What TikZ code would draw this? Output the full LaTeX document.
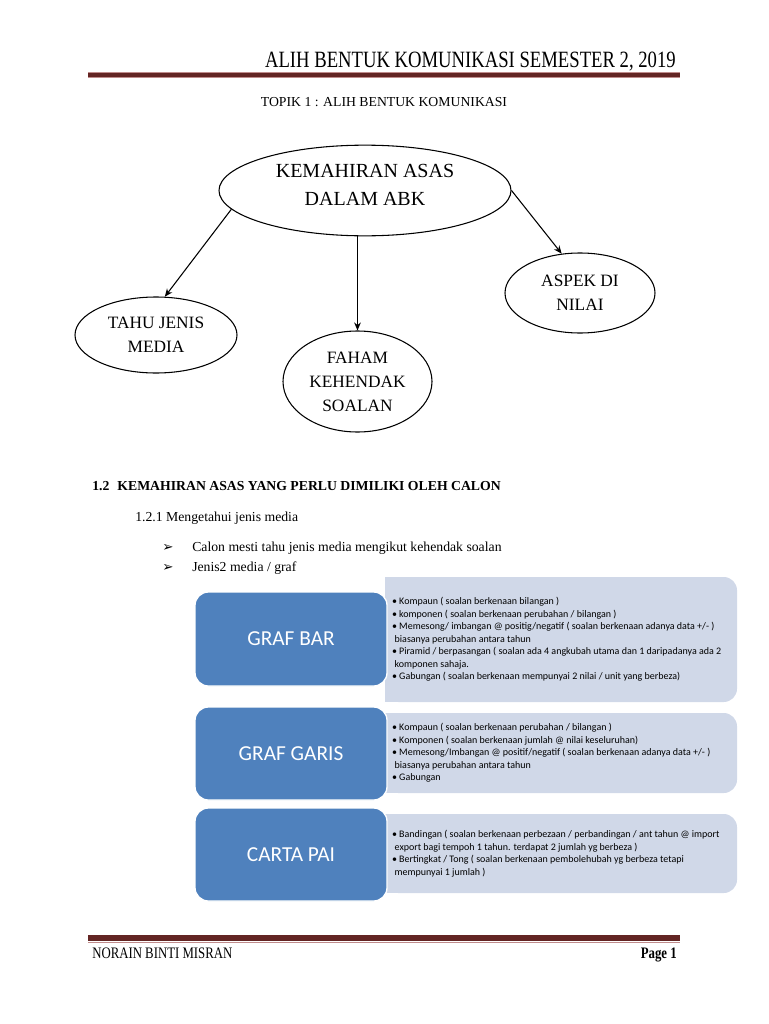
\documentclass[tikz,border=0pt]{standalone}
\usepackage{fontspec}
\setmainfont{Liberation Serif}
\newfontfamily\headfont[FakeStretch=0.8]{Liberation Serif}
\newfontfamily\boxfont{Carlito}
\newfontfamily\symfont{DejaVu Sans}
\usetikzlibrary{shapes, arrows.meta, positioning, calc, fit, backgrounds}
\definecolor{rulered}{RGB}{99, 37, 35}
\definecolor{rulepink}{RGB}{192, 140, 140}
\definecolor{chartblue}{RGB}{79, 129, 189}
\definecolor{infofill}{RGB}{208, 216, 232}

\begin{document}
\begin{tikzpicture}[
  x=0.75pt, y=-0.75pt,
  bubble/.style={ellipse, draw, line width=0.8pt, inner sep=0pt, align=center, font=\fontsize{13}{18}\selectfont},
  link/.style={-{Stealth[length=6pt, width=5pt]}, line width=0.8pt},
  body/.style={anchor=base west, inner sep=0pt, font=\fontsize{10.3}{12}\selectfont},
  chartbox/.style={rectangle, rounded corners=10pt, fill=chartblue, draw=white, line width=1pt, inner sep=0pt, minimum width=144pt, text=white, font={\boxfont\fontsize{16}{19}\selectfont}},
  infobox/.style={rectangle, rounded corners=10pt, fill=infofill, inner sep=0pt, minimum width=264pt},
  infotext/.style={anchor=west, inner sep=0pt, align=left, font={\boxfont\fontsize{7.5}{9.4}\selectfont}},
]
  \fill[white] (0,0) rectangle (768,1024);
  \useasboundingbox (0,0) rectangle (768,1024);

  % page header
  \node[anchor=base east, inner sep=0pt, font={\headfont\fontsize{17.5}{22}\selectfont}] (title) at (676,68) {ALIH BENTUK KOMUNIKASI SEMESTER 2, 2019};
  \draw[rulepink, line width=4.5pt] (88,75) -- (680,75);
  \draw[rulered, line width=3pt] (88,75) -- (680,75);

  \node[anchor=base, inner sep=0pt, font=\fontsize{10.3}{12}\selectfont] (topic) at (384,106.5) {TOPIK 1 : ALIH BENTUK KOMUNIKASI};

  % mind map
  \node[bubble, minimum width=219pt, minimum height=68pt, font=\fontsize{15}{21}\selectfont] (asas) at (365,190.5) {KEMAHIRAN ASAS\\DALAM ABK\\[-13pt]};
  \node[bubble, minimum width=121.5pt, minimum height=57pt] (tahu) at (156,335) {TAHU JENIS\\MEDIA};
  \node[bubble, minimum width=111.75pt, minimum height=75.75pt] (faham) at (357.5,381.5) {FAHAM\\KEHENDAK\\SOALAN};
  \node[bubble, minimum width=112.5pt, minimum height=60pt] (aspek) at (580,293) {ASPEK DI\\NILAI};

  \draw[link] (asas.188) -- (tahu.77);
  \draw[link] (asas.south -| faham.north) -- (faham.north);
  \draw[link] (asas.east) -- (aspek.115);

  % text
  \node[body, font=\bfseries\fontsize{10.3}{12}\selectfont] (section) at (92,490) {1.2\hspace{6pt}KEMAHIRAN ASAS YANG PERLU DIMILIKI OLEH CALON};
  \node[body] (subsection) at (135,521) {1.2.1 Mengetahui jenis media};
  \node[body, font=\symfont\fontsize{10}{12}\selectfont] (tick1) at (162,551) {➢};
  \node[body] (point1) at (192,551) {Calon mesti tahu jenis media mengikut kehendak soalan};
  \node[body, font=\symfont\fontsize{10}{12}\selectfont] (tick2) at (162,571) {➢};
  \node[body] (point2) at (192,571) {Jenis2 media / graf};

  % graf bar
  \node[infobox, minimum height=93.75pt] (barinfo) at (561,639.5) {};
  \fill[infofill] (barinfo.north west) rectangle ($(barinfo.south west)+(30,0)$);
  \node[infotext] (bartext) at ($(barinfo.west)+(7,0)$) {
    \textbullet\ Kompaun ( soalan berkenaan bilangan )\\
    \textbullet\ komponen ( soalan berkenaan perubahan / bilangan )\\
    \textbullet\ Memesong/ imbangan @ positig/negatif ( soalan berkenaan adanya data +/- )\\
    \hspace{2pt}biasanya perubahan antara tahun\\
    \textbullet\ Piramid / berpasangan ( soalan ada 4 angkubah utama dan 1 daripadanya ada 2\\
    \hspace{2pt}komponen sahaja.\\
    \textbullet\ Gabungan ( soalan berkenaan mempunyai 2 nilai / unit yang berbeza)
  };
  \node[chartbox, minimum height=70.5pt] (bar) at (291,639) {GRAF BAR};

  % graf garis
  \node[infobox, minimum height=60pt] (garisinfo) at (561,753) {};
  \fill[infofill] (garisinfo.north west) rectangle ($(garisinfo.south west)+(30,0)$);
  \node[infotext] (garistext) at ($(garisinfo.west)+(7,0)$) {
    \textbullet\ Kompaun ( soalan berkenaan perubahan / bilangan )\\
    \textbullet\ Komponen ( soalan berkenaan jumlah @ nilai keseluruhan)\\
    \textbullet\ Memesong/Imbangan @ positif/negatif ( soalan berkenaan adanya data +/- )\\
    \hspace{2pt}biasanya perubahan antara tahun\\
    \textbullet\ Gabungan
  };
  \node[chartbox, minimum height=69.75pt] (garis) at (291,753.5) {GRAF GARIS};

  % carta pai
  \node[infobox, minimum height=59.25pt] (paiinfo) at (561,853.5) {};
  \fill[infofill] (paiinfo.north west) rectangle ($(paiinfo.south west)+(30,0)$);
  \node[infotext] (paitext) at ($(paiinfo.west)+(7,0)$) {
    \textbullet\ Bandingan ( soalan berkenaan perbezaan / perbandingan / ant tahun @ import\\
    \hspace{2pt}export bagi tempoh 1 tahun. terdapat 2 jumlah yg berbeza )\\
    \textbullet\ Bertingkat / Tong ( soalan berkenaan pembolehubah yg berbeza tetapi\\
    \hspace{2pt}mempunyai 1 jumlah )
  };
  \node[chartbox, minimum height=69.75pt] (pai) at (291,854.5) {CARTA PAI};

  % page footer
  \draw[rulered, line width=4pt] (88,938) -- (680,938);
  \draw[rulepink, line width=0.9pt] (88,942.5) -- (680,942.5);
  \node[anchor=base west, inner sep=0pt, font={\headfont\fontsize{12}{14}\selectfont}] (author) at (92,958) {NORAIN BINTI MISRAN};
  \node[anchor=base east, inner sep=0pt, font={\headfont\bfseries\fontsize{12}{14}\selectfont}] (pagenum) at (677,958) {Page 1};
\end{tikzpicture}
\end{document}
